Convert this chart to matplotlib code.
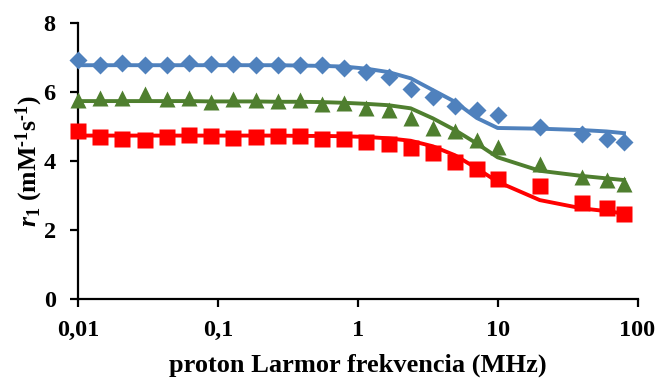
import matplotlib
matplotlib.use("Agg")
import matplotlib.pyplot as plt
from matplotlib.ticker import FixedLocator, FixedFormatter, NullLocator

plt.rcParams['font.family'] = ['Liberation Serif', 'DejaVu Serif']
plt.rcParams['mathtext.fontset'] = 'custom'
plt.rcParams['mathtext.rm'] = 'Liberation Serif:bold'
plt.rcParams['mathtext.it'] = 'Liberation Serif:italic:bold'
plt.rcParams['mathtext.bf'] = 'Liberation Serif:bold'

# proton Larmor frequency (MHz)
freq = [0.01, 0.0144, 0.0208, 0.03, 0.0432, 0.0622, 0.0896, 0.129, 0.186,
        0.268, 0.386, 0.556, 0.80, 1.15, 1.66, 2.39, 3.44, 4.95, 7.1, 10.0,
        20.0, 40.0, 60.0, 80.0]

# measured r1 (points)
blue_pts = [6.93, 6.80, 6.84, 6.80, 6.80, 6.84, 6.81, 6.81, 6.80, 6.80, 6.80,
            6.78, 6.70, 6.59, 6.44, 6.10, 5.85, 5.60, 5.48, 5.33, 4.98, 4.78,
            4.63, 4.56]
green_pts = [5.77, 5.82, 5.82, 5.94, 5.79, 5.82, 5.72, 5.79, 5.77, 5.75, 5.77,
             5.65, 5.68, 5.53, 5.48, 5.24, 4.95, 4.88, 4.61, 4.41, 3.93, 3.53,
             3.45, 3.33]
red_pts = [4.88, 4.71, 4.63, 4.61, 4.69, 4.75, 4.72, 4.68, 4.71, 4.72, 4.72,
           4.63, 4.63, 4.56, 4.49, 4.37, 4.24, 3.98, 3.76, 3.47, 3.28, 2.79,
           2.63, 2.48]

# fitted curves
blue_fit = [6.78, 6.78, 6.78, 6.78, 6.78, 6.78, 6.78, 6.78, 6.78, 6.78, 6.77,
            6.76, 6.74, 6.68, 6.58, 6.40, 6.06, 5.72, 5.25, 4.96, 4.94, 4.90,
            4.86, 4.81]
green_fit = [5.74, 5.74, 5.74, 5.74, 5.74, 5.74, 5.73, 5.73, 5.73, 5.72, 5.72,
             5.71, 5.69, 5.66, 5.62, 5.53, 5.24, 4.90, 4.51, 4.11, 3.72, 3.57,
             3.50, 3.45]
red_fit = [4.74, 4.74, 4.74, 4.74, 4.74, 4.74, 4.74, 4.74, 4.74, 4.74, 4.73,
           4.73, 4.72, 4.70, 4.66, 4.59, 4.43, 4.17, 3.79, 3.40, 2.87, 2.63,
           2.55, 2.48]

blue = '#4F81BD'
green = '#4F7F2F'
red = '#FF0000'

fig = plt.figure(figsize=(6.6, 3.82), dpi=100)
ax = fig.add_axes([0.118, 0.217, 0.848, 0.7225])

ax.plot(freq, blue_fit, color=blue, lw=2.8, zorder=2)
ax.plot(freq, green_fit, color=green, lw=2.8, zorder=2)
ax.plot(freq, red_fit, color=red, lw=2.8, zorder=2)

ax.plot(freq, blue_pts, 'D', color=blue, ms=9.5, mec='none', zorder=3, clip_on=False)
ax.plot(freq, green_pts, '^', color=green, ms=11.5, mec='none', zorder=3, clip_on=False)
ax.plot(freq, red_pts, 's', color=red, ms=11.5, mec='none', zorder=3, clip_on=False)

ax.set_xscale('log')
ax.set_xlim(0.01, 100)
ax.set_ylim(0, 8)

xt = [0.01, 0.1, 1, 10, 100]
ax.xaxis.set_major_locator(FixedLocator(xt))
ax.xaxis.set_major_formatter(FixedFormatter(['0,01', '0,1', '1', '10', '100']))
ax.xaxis.set_minor_locator(NullLocator())
ax.set_yticks([0, 2, 4, 6, 8])

for s in ['top', 'right']:
    ax.spines[s].set_visible(False)
for s in ['left', 'bottom']:
    ax.spines[s].set_linewidth(1.6)
ax.tick_params(direction='out', length=6, width=1.6, labelsize=17.5)
ax.tick_params(axis='y', pad=10)
ax.tick_params(axis='x', pad=9)
for lbl in ax.get_xticklabels() + ax.get_yticklabels():
    lbl.set_fontweight('bold')

ax.set_xlabel('proton Larmor frekvencia (MHz)', fontsize=19, fontweight='bold', labelpad=9)
ax.set_ylabel('$\\mathit{r}_{1}$ (mM$^{\u2010\\mathrm{1}}$s$^{\u2010\\mathrm{1}}$)',
              fontsize=18.5, fontweight='bold', labelpad=-1)

fig.savefig('out.png', dpi=100)
